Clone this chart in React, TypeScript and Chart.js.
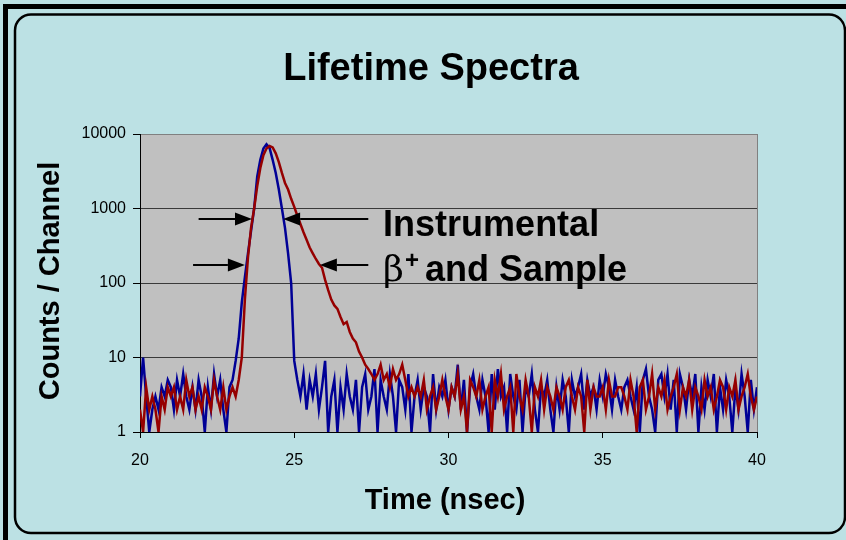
import { useEffect, useRef } from "react";
import { Chart, registerables } from "chart.js";
Chart.register(...registerables);

const FONT = "'Liberation Sans', Arial, Helvetica, sans-serif";

const chartTitle = "Lifetime Spectra";
const xAxisTitle = "Time (nsec)";
const yAxisTitle = "Counts / Channel";

const timeStart = 20;
const timeStep = 0.1;
const xMin = 20;
const xMax = 40;
const xStep = 5;
const yTicks = [1, 10, 100, 1000, 10000];

// Instrumental resolution (blue), one value per 0.1 ns channel from 20.0 to 40.0
const instrumental = [
  3, 10, 3, 1, 2, 3, 2, 4, 3, 5,
  4, 2, 5, 3, 6, 3, 2, 4, 2, 5,
  3, 1, 4, 2, 6, 3, 5, 2, 1, 4,
  5, 9, 18, 55, 120, 250, 500, 1000, 2700, 4500,
  6400, 7300, 6500, 4500, 3000, 1800, 1000, 550, 250, 100,
  9, 5, 3, 6, 2, 5, 3, 6, 2, 4,
  9, 1, 3, 5, 1, 4, 2, 6, 3, 2,
  5, 1, 4, 6, 2, 3, 7, 1, 5, 3,
  2, 6, 3, 1, 5, 4, 2, 6, 1, 3,
  5, 2, 4, 3, 1, 6, 2, 4, 3, 5,
  2, 4, 3, 8, 2, 5, 1, 4, 6, 3,
  2, 5, 3, 1, 6, 2, 7, 3, 4, 1,
  6, 3, 2, 5, 1, 4, 3, 6, 2, 1,
  4, 3, 5, 2, 1, 4, 2, 5, 3, 1,
  5, 3, 4, 6, 2, 5, 3, 4, 2, 5,
  3, 6, 4, 2, 5, 3, 2, 4, 5, 3,
  2, 4, 1, 5, 7, 3, 2, 1, 5, 6,
  3, 6, 2, 5, 1, 6, 4, 2, 5, 3,
  6, 1, 4, 2, 5, 3, 6, 1, 4, 2,
  5, 3, 1, 4, 2, 6, 3, 1, 5, 2,
  4,
];

// Beta+ and sample (red)
const sample = [
  2, 1, 4, 2, 3, 2, 1, 3, 2, 4,
  3, 4, 2, 3, 2, 5, 3, 4, 2, 3,
  2, 4, 3, 2, 5, 3, 2, 4, 2, 3,
  4, 3, 5, 10, 60, 220, 550, 1000, 2000, 3500,
  5200, 6400, 6900, 6600, 5500, 4200, 3000, 2200, 1800, 1350,
  1050, 800, 620, 480, 380, 300, 250, 210, 180, 160,
  110, 80, 60, 50, 45, 35, 28, 30, 22, 18,
  16, 12, 10, 8, 7, 6, 5, 6, 8, 5,
  6, 4, 7, 5, 6, 8, 5, 3, 4, 3,
  4, 3, 5, 2, 3, 4, 2, 3, 5, 3,
  2, 4, 3, 6, 2, 3, 1, 5, 4, 3,
  5, 2, 3, 4, 1, 5, 3, 6, 2, 3,
  4, 1, 6, 3, 2, 5, 3, 1, 4, 3,
  5, 2, 4, 3, 2, 4, 3, 2, 4, 5,
  3, 2, 4, 3, 1, 5, 2, 4, 3, 3,
  4, 2, 5, 3, 3, 4, 4, 3, 2, 5,
  3, 1, 4, 5, 2, 3, 6, 2, 4, 3,
  5, 2, 3, 4, 6, 2, 4, 3, 5, 2,
  4, 3, 2, 5, 3, 4, 2, 3, 5, 4,
  2, 4, 3, 5, 2, 3, 4, 6, 3, 2,
  3,
];

// Annotation rows (data units): arrows pointing at the curves' widths
const arrowRowValues = [720, 175];
const arrowLeftFrom = [21.9, 21.72];
const arrowLeftTo = [23.63, 23.4];
const arrowRightFrom = [27.4, 27.4];
const arrowRightTo = [24.64, 25.83];
const noteX = 27.88;
const noteInstrumental = "Instrumental";
const noteInstrumentalValue = 427;
const noteSampleParts = ["β", "+", " and Sample"];
const noteSampleValue = 106;

const times = instrumental.map((_, i) => Math.round((timeStart + i * timeStep) * 10) / 10);

const BG = "#BCE1E4";
const PLOT_BG = "#C0C0C0";
const BLUE = "#000096";
const RED = "#960000";

function drawArrow(ctx: CanvasRenderingContext2D, x1: number, x2: number, y: number) {
  const dir = x2 > x1 ? 1 : -1;
  const headLen = 17;
  const headHalf = 6.5;
  ctx.save();
  ctx.strokeStyle = "#000";
  ctx.fillStyle = "#000";
  ctx.lineWidth = 2;
  ctx.beginPath();
  ctx.moveTo(x1, y);
  ctx.lineTo(x2 - dir * headLen, y);
  ctx.stroke();
  ctx.beginPath();
  ctx.moveTo(x2, y);
  ctx.lineTo(x2 - dir * headLen, y - headHalf);
  ctx.lineTo(x2 - dir * headLen, y + headHalf);
  ctx.closePath();
  ctx.fill();
  ctx.restore();
}

const decorPlugin = {
  id: "decor",
  beforeDraw(chart: any) {
    const ctx: CanvasRenderingContext2D = chart.ctx;
    const W = chart.width;
    const H = chart.height;
    const a = chart.chartArea;
    ctx.save();
    ctx.fillStyle = BG;
    ctx.fillRect(0, 0, W, H);
    // outer frame (top + left)
    ctx.fillStyle = "#000";
    ctx.fillRect(3, 4, W, 5);
    ctx.fillRect(3, 4, 5, H);
    // inner rounded panel
    ctx.strokeStyle = "#000";
    ctx.lineWidth = 2.5;
    ctx.beginPath();
    (ctx as any).roundRect(15, 14.5, 830, 518.5, 16);
    ctx.stroke();
    // plot area
    ctx.fillStyle = PLOT_BG;
    ctx.fillRect(a.left, a.top, a.right - a.left, a.bottom - a.top);
    // titles
    ctx.fillStyle = "#000";
    ctx.textAlign = "center";
    ctx.textBaseline = "alphabetic";
    ctx.font = `bold 38px ${FONT}`;
    ctx.fillText(chartTitle, 431, 80);
    ctx.font = `bold 29px ${FONT}`;
    ctx.fillText(xAxisTitle, 445, 509);
    ctx.translate(59, 281);
    ctx.rotate(-Math.PI / 2);
    ctx.fillText(yAxisTitle, 0, 0);
    ctx.restore();
  },
  afterDraw(chart: any) {
    const ctx: CanvasRenderingContext2D = chart.ctx;
    const a = chart.chartArea;
    const xs = chart.scales.x;
    const ys = chart.scales.y;
    ctx.save();
    // right border
    ctx.strokeStyle = "#808080";
    ctx.lineWidth = 1;
    ctx.beginPath();
    ctx.moveTo(Math.round(a.right) + 0.5, a.top);
    ctx.lineTo(Math.round(a.right) + 0.5, a.bottom);
    ctx.stroke();
    // arrows
    arrowRowValues.forEach((v, i) => {
      const y = Math.round(ys.getPixelForValue(v));
      drawArrow(ctx, xs.getPixelForValue(arrowLeftFrom[i]), xs.getPixelForValue(arrowLeftTo[i]), y);
      drawArrow(ctx, xs.getPixelForValue(arrowRightFrom[i]), xs.getPixelForValue(arrowRightTo[i]), y);
    });
    // notes
    ctx.fillStyle = "#000";
    ctx.textAlign = "left";
    ctx.textBaseline = "alphabetic";
    const nx = xs.getPixelForValue(noteX);
    ctx.font = `bold 36px ${FONT}`;
    ctx.fillText(noteInstrumental, nx, ys.getPixelForValue(noteInstrumentalValue));
    const by = ys.getPixelForValue(noteSampleValue);
    let cx = nx;
    ctx.font = `36px 'DejaVu Serif', ${FONT}`;
    ctx.fillText(noteSampleParts[0], cx, by);
    cx += ctx.measureText(noteSampleParts[0]).width + 1;
    ctx.font = `bold 24px ${FONT}`;
    ctx.fillText(noteSampleParts[1], cx, by - 13);
    cx += ctx.measureText(noteSampleParts[1]).width - 4;
    ctx.font = `bold 36px ${FONT}`;
    ctx.fillText(noteSampleParts[2], cx, by);
    ctx.restore();
  },
};

export default function App() {
  const ref = useRef<HTMLCanvasElement>(null);
  useEffect(() => {
    if (!ref.current) return;
    const chart = new Chart(ref.current, {
      type: "line",
      data: {
        datasets: [
          {
            label: "β+ and Sample",
            data: times.map((t, i) => ({ x: t, y: sample[i] })),
            borderColor: RED,
            borderWidth: 2.5,
            pointRadius: 0,
            tension: 0,
            fill: false,
          },
          {
            label: "Instrumental",
            data: times.map((t, i) => ({ x: t, y: instrumental[i] })),
            borderColor: BLUE,
            borderWidth: 2.5,
            pointRadius: 0,
            tension: 0,
            fill: false,
          },
        ],
      },
      options: {
        animation: false,
        responsive: false,
        devicePixelRatio: 1,
        layout: { padding: { left: 0, right: 89, top: 134, bottom: 0 } },
        plugins: { legend: { display: false }, title: { display: false }, tooltip: { enabled: false } },
        events: [],
        scales: {
          x: {
            type: "linear",
            min: xMin,
            max: xMax,
            afterFit: (s: any) => { s.height = 108; },
            ticks: { stepSize: xStep, color: "#000", font: { family: FONT, size: 16 }, padding: 13, maxRotation: 0 },
            grid: { drawOnChartArea: false, drawTicks: true, tickLength: 6, tickColor: "#000" },
            border: { color: "#000", width: 1 },
          },
          y: {
            type: "logarithmic",
            min: 1,
            max: 10000,
            afterFit: (s: any) => { s.width = 140; },
            afterBuildTicks: (s: any) => { s.ticks = yTicks.map((v) => ({ value: v })); },
            ticks: { color: "#000", font: { family: FONT, size: 16 }, padding: 7, callback: (v: any) => String(v) },
            grid: {
              drawOnChartArea: true,
              tickLength: 7,
              tickColor: "#000",
              color: (c: any) => (c.tick && c.tick.value === 10000 ? "#808080" : "#3a3a3a"),
              lineWidth: 1,
            },
            border: { color: "#000", width: 1 },
          },
        },
      },
      plugins: [decorPlugin],
    });
    return () => chart.destroy();
  }, []);
  return (
    <div style={{ position: "absolute", left: 0, top: 0, width: 846, height: 540 }}>
      <canvas ref={ref} width={846} height={540} style={{ display: "block" }} />
    </div>
  );
}
